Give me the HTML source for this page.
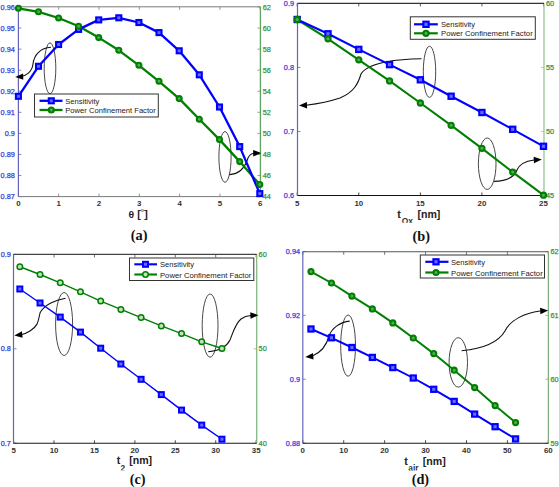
<!DOCTYPE html>
<html><head><meta charset="utf-8"><style>
*{margin:0;padding:0}
html,body{width:559px;height:487px;background:#fff;overflow:hidden}
svg text{font-family:"Liberation Sans",sans-serif}
.xt{font-size:7.9px;font-weight:bold;fill:#333}
.yl{font-size:7.3px;fill:#2a2ad8;stroke:#4a4ae0;stroke-width:0.25}
.yr{font-size:7.3px;fill:#2d8a2d;stroke:#4a9a4a;stroke-width:0.25}
.lg{font-size:7.7px;fill:#222}
.xl{font-size:10.6px;font-weight:bold;fill:#222}
.xs{font-size:8.4px;font-weight:bold;fill:#333}
.cap{font-family:"Liberation Serif",serif !important;font-size:14.3px;font-weight:bold;fill:#111}
</style></head>
<body><svg width="559" height="487" viewBox="0 0 559 487" style="display:block">
<rect width="559" height="487" fill="#fff"/>
<line x1="18.4" y1="196.6" x2="18.4" y2="193.6" stroke="#7a7a7a" stroke-width="0.8"/>
<line x1="18.4" y1="6.8" x2="18.4" y2="9.8" stroke="#7a7a7a" stroke-width="0.8"/>
<text x="18.4" y="206.4" text-anchor="middle" class="xt">0</text>
<line x1="58.7" y1="196.6" x2="58.7" y2="193.6" stroke="#7a7a7a" stroke-width="0.8"/>
<line x1="58.7" y1="6.8" x2="58.7" y2="9.8" stroke="#7a7a7a" stroke-width="0.8"/>
<text x="58.7" y="206.4" text-anchor="middle" class="xt">1</text>
<line x1="99" y1="196.6" x2="99" y2="193.6" stroke="#7a7a7a" stroke-width="0.8"/>
<line x1="99" y1="6.8" x2="99" y2="9.8" stroke="#7a7a7a" stroke-width="0.8"/>
<text x="99" y="206.4" text-anchor="middle" class="xt">2</text>
<line x1="139.3" y1="196.6" x2="139.3" y2="193.6" stroke="#7a7a7a" stroke-width="0.8"/>
<line x1="139.3" y1="6.8" x2="139.3" y2="9.8" stroke="#7a7a7a" stroke-width="0.8"/>
<text x="139.3" y="206.4" text-anchor="middle" class="xt">3</text>
<line x1="179.6" y1="196.6" x2="179.6" y2="193.6" stroke="#7a7a7a" stroke-width="0.8"/>
<line x1="179.6" y1="6.8" x2="179.6" y2="9.8" stroke="#7a7a7a" stroke-width="0.8"/>
<text x="179.6" y="206.4" text-anchor="middle" class="xt">4</text>
<line x1="219.9" y1="196.6" x2="219.9" y2="193.6" stroke="#7a7a7a" stroke-width="0.8"/>
<line x1="219.9" y1="6.8" x2="219.9" y2="9.8" stroke="#7a7a7a" stroke-width="0.8"/>
<text x="219.9" y="206.4" text-anchor="middle" class="xt">5</text>
<line x1="260.2" y1="196.6" x2="260.2" y2="193.6" stroke="#7a7a7a" stroke-width="0.8"/>
<line x1="260.2" y1="6.8" x2="260.2" y2="9.8" stroke="#7a7a7a" stroke-width="0.8"/>
<text x="260.2" y="206.4" text-anchor="middle" class="xt">6</text>
<line x1="18.4" y1="6.8" x2="18.4" y2="196.6" stroke="#6464bc" stroke-width="1.2"/>
<line x1="18.4" y1="196.6" x2="21.4" y2="196.6" stroke="#6464bc" stroke-width="0.8"/>
<text x="14.8" y="199.2" text-anchor="end" class="yl">0.87</text>
<line x1="18.4" y1="175.53" x2="21.4" y2="175.53" stroke="#6464bc" stroke-width="0.8"/>
<text x="14.8" y="178.13" text-anchor="end" class="yl">0.88</text>
<line x1="18.4" y1="154.46" x2="21.4" y2="154.46" stroke="#6464bc" stroke-width="0.8"/>
<text x="14.8" y="157.06" text-anchor="end" class="yl">0.89</text>
<line x1="18.4" y1="133.39" x2="21.4" y2="133.39" stroke="#6464bc" stroke-width="0.8"/>
<text x="14.8" y="135.99" text-anchor="end" class="yl">0.9</text>
<line x1="18.4" y1="112.32" x2="21.4" y2="112.32" stroke="#6464bc" stroke-width="0.8"/>
<text x="14.8" y="114.92" text-anchor="end" class="yl">0.91</text>
<line x1="18.4" y1="91.25" x2="21.4" y2="91.25" stroke="#6464bc" stroke-width="0.8"/>
<text x="14.8" y="93.85" text-anchor="end" class="yl">0.92</text>
<line x1="18.4" y1="70.18" x2="21.4" y2="70.18" stroke="#6464bc" stroke-width="0.8"/>
<text x="14.8" y="72.78" text-anchor="end" class="yl">0.93</text>
<line x1="18.4" y1="49.11" x2="21.4" y2="49.11" stroke="#6464bc" stroke-width="0.8"/>
<text x="14.8" y="51.71" text-anchor="end" class="yl">0.94</text>
<line x1="18.4" y1="28.04" x2="21.4" y2="28.04" stroke="#6464bc" stroke-width="0.8"/>
<text x="14.8" y="30.64" text-anchor="end" class="yl">0.95</text>
<line x1="18.4" y1="6.97" x2="21.4" y2="6.97" stroke="#6464bc" stroke-width="0.8"/>
<text x="14.8" y="9.57" text-anchor="end" class="yl">0.96</text>
<line x1="260.4" y1="6.8" x2="260.4" y2="196.6" stroke="#5fa55f" stroke-width="1.3"/>
<line x1="260.4" y1="196.6" x2="257.4" y2="196.6" stroke="#5fa55f" stroke-width="0.8"/>
<text x="262.8" y="199.2" text-anchor="start" class="yr">44</text>
<line x1="260.4" y1="175.53" x2="257.4" y2="175.53" stroke="#5fa55f" stroke-width="0.8"/>
<text x="262.8" y="178.13" text-anchor="start" class="yr">46</text>
<line x1="260.4" y1="154.46" x2="257.4" y2="154.46" stroke="#5fa55f" stroke-width="0.8"/>
<text x="262.8" y="157.06" text-anchor="start" class="yr">48</text>
<line x1="260.4" y1="133.39" x2="257.4" y2="133.39" stroke="#5fa55f" stroke-width="0.8"/>
<text x="262.8" y="135.99" text-anchor="start" class="yr">50</text>
<line x1="260.4" y1="112.32" x2="257.4" y2="112.32" stroke="#5fa55f" stroke-width="0.8"/>
<text x="262.8" y="114.92" text-anchor="start" class="yr">52</text>
<line x1="260.4" y1="91.25" x2="257.4" y2="91.25" stroke="#5fa55f" stroke-width="0.8"/>
<text x="262.8" y="93.85" text-anchor="start" class="yr">54</text>
<line x1="260.4" y1="70.18" x2="257.4" y2="70.18" stroke="#5fa55f" stroke-width="0.8"/>
<text x="262.8" y="72.78" text-anchor="start" class="yr">56</text>
<line x1="260.4" y1="49.11" x2="257.4" y2="49.11" stroke="#5fa55f" stroke-width="0.8"/>
<text x="262.8" y="51.71" text-anchor="start" class="yr">58</text>
<line x1="260.4" y1="28.04" x2="257.4" y2="28.04" stroke="#5fa55f" stroke-width="0.8"/>
<text x="262.8" y="30.64" text-anchor="start" class="yr">60</text>
<line x1="260.4" y1="6.97" x2="257.4" y2="6.97" stroke="#5fa55f" stroke-width="0.8"/>
<text x="262.8" y="9.57" text-anchor="start" class="yr">62</text>
<line x1="18.4" y1="6.8" x2="260.4" y2="6.8" stroke="#7a7a7a" stroke-width="1"/>
<line x1="18.4" y1="196.6" x2="260.4" y2="196.6" stroke="#7a7a7a" stroke-width="1"/>
<ellipse cx="50" cy="68.3" rx="5.8" ry="25.4" fill="none" stroke="#333" stroke-width="0.9"/>
<ellipse cx="225" cy="156.9" rx="6.1" ry="25.35" fill="none" stroke="#333" stroke-width="0.9"/>
<path d="M51,47.3 C40,48 34,55 33,64 C32,72 26,76 20,76.8" fill="none" stroke="#111" stroke-width="1.1"/>
<polygon points="15.2,76.9 23.08,73.38 23.31,79.87" fill="#000"/>
<path d="M229.4,174.6 C240,174 245,168 248,158 C250,154 252,153.5 254,153.3" fill="none" stroke="#111" stroke-width="1.1"/>
<polygon points="261.2,153 253.29,156.47 253.11,149.97" fill="#000"/>
<polyline points="18.4,8.3 38.5,11.8 58.6,18 78.6,26.2 98.7,37.6 118.8,50.3 138.9,65.3 159,81.3 179.2,98.6 199.3,119.3 219.5,139.6 239.7,161.6 259.8,184.5" fill="none" stroke="#008000" stroke-width="2.3" stroke-linejoin="round"/>
<polyline points="18.4,96.3 38.5,66.3 58.6,44.5 78.6,29.4 98.7,19.9 118.8,17.8 138.9,22.5 159,32.6 179.2,50.8 199.3,74.8 219.5,107 239.7,146.6 259.8,193.6" fill="none" stroke="#0000ff" stroke-width="2.3" stroke-linejoin="round"/>
<rect x="15.9" y="93.8" width="5" height="5" fill="#6a6aff" stroke="#0000ff" stroke-width="2.1"/>
<rect x="36" y="63.8" width="5" height="5" fill="#6a6aff" stroke="#0000ff" stroke-width="2.1"/>
<rect x="56.1" y="42" width="5" height="5" fill="#6a6aff" stroke="#0000ff" stroke-width="2.1"/>
<rect x="76.1" y="26.9" width="5" height="5" fill="#6a6aff" stroke="#0000ff" stroke-width="2.1"/>
<rect x="96.2" y="17.4" width="5" height="5" fill="#6a6aff" stroke="#0000ff" stroke-width="2.1"/>
<rect x="116.3" y="15.3" width="5" height="5" fill="#6a6aff" stroke="#0000ff" stroke-width="2.1"/>
<rect x="136.4" y="20" width="5" height="5" fill="#6a6aff" stroke="#0000ff" stroke-width="2.1"/>
<rect x="156.5" y="30.1" width="5" height="5" fill="#6a6aff" stroke="#0000ff" stroke-width="2.1"/>
<rect x="176.7" y="48.3" width="5" height="5" fill="#6a6aff" stroke="#0000ff" stroke-width="2.1"/>
<rect x="196.8" y="72.3" width="5" height="5" fill="#6a6aff" stroke="#0000ff" stroke-width="2.1"/>
<rect x="217" y="104.5" width="5" height="5" fill="#6a6aff" stroke="#0000ff" stroke-width="2.1"/>
<rect x="237.2" y="144.1" width="5" height="5" fill="#6a6aff" stroke="#0000ff" stroke-width="2.1"/>
<rect x="257.3" y="191.1" width="5" height="5" fill="#6a6aff" stroke="#0000ff" stroke-width="2.1"/>
<circle cx="18.4" cy="8.3" r="2.5" fill="#5aa85a" stroke="#008000" stroke-width="2.1"/>
<circle cx="38.5" cy="11.8" r="2.5" fill="#5aa85a" stroke="#008000" stroke-width="2.1"/>
<circle cx="58.6" cy="18" r="2.5" fill="#5aa85a" stroke="#008000" stroke-width="2.1"/>
<circle cx="78.6" cy="26.2" r="2.5" fill="#5aa85a" stroke="#008000" stroke-width="2.1"/>
<circle cx="98.7" cy="37.6" r="2.5" fill="#5aa85a" stroke="#008000" stroke-width="2.1"/>
<circle cx="118.8" cy="50.3" r="2.5" fill="#5aa85a" stroke="#008000" stroke-width="2.1"/>
<circle cx="138.9" cy="65.3" r="2.5" fill="#5aa85a" stroke="#008000" stroke-width="2.1"/>
<circle cx="159" cy="81.3" r="2.5" fill="#5aa85a" stroke="#008000" stroke-width="2.1"/>
<circle cx="179.2" cy="98.6" r="2.5" fill="#5aa85a" stroke="#008000" stroke-width="2.1"/>
<circle cx="199.3" cy="119.3" r="2.5" fill="#5aa85a" stroke="#008000" stroke-width="2.1"/>
<circle cx="219.5" cy="139.6" r="2.5" fill="#5aa85a" stroke="#008000" stroke-width="2.1"/>
<circle cx="239.7" cy="161.6" r="2.5" fill="#5aa85a" stroke="#008000" stroke-width="2.1"/>
<circle cx="259.8" cy="184.5" r="2.5" fill="#5aa85a" stroke="#008000" stroke-width="2.1"/>
<rect x="34.5" y="94" width="123.8" height="23" fill="#fff" stroke="#333" stroke-width="1"/>
<line x1="39.5" y1="100.8" x2="62.5" y2="100.8" stroke="#0000ff" stroke-width="2.3"/>
<rect x="48.8" y="98.3" width="5" height="5" fill="#6a6aff" stroke="#0000ff" stroke-width="2.1"/>
<text x="65.3" y="103.8" class="lg" textLength="34" lengthAdjust="spacingAndGlyphs">Sensitivity</text>
<line x1="39.5" y1="110" x2="62.5" y2="110" stroke="#008000" stroke-width="2.3"/>
<circle cx="51.3" cy="110" r="2.5" fill="#5aa85a" stroke="#008000" stroke-width="2.1"/>
<text x="65.3" y="113" class="lg" textLength="90.5" lengthAdjust="spacingAndGlyphs">Power Confinement Factor</text>
<text x="128.5" y="217.6" class="xl" style="font-size:8.6px" textLength="5.6" lengthAdjust="spacingAndGlyphs">&#952;</text><text x="137.3" y="217.9" class="xl">[</text><text x="140.5" y="215.4" class="xl" style="font-size:9.5px;fill:#666">&#176;</text><text x="144.3" y="217.9" class="xl">]</text>
<text x="139.2" y="240" text-anchor="middle" class="cap">(a)</text>
<line x1="297.2" y1="195.5" x2="297.2" y2="192.5" stroke="#111" stroke-width="0.8"/>
<line x1="297.2" y1="3.4" x2="297.2" y2="6.4" stroke="#333" stroke-width="0.8"/>
<text x="297.2" y="205.9" text-anchor="middle" class="xt">5</text>
<line x1="358.77" y1="195.5" x2="358.77" y2="192.5" stroke="#111" stroke-width="0.8"/>
<line x1="358.77" y1="3.4" x2="358.77" y2="6.4" stroke="#333" stroke-width="0.8"/>
<text x="358.77" y="205.9" text-anchor="middle" class="xt">10</text>
<line x1="420.35" y1="195.5" x2="420.35" y2="192.5" stroke="#111" stroke-width="0.8"/>
<line x1="420.35" y1="3.4" x2="420.35" y2="6.4" stroke="#333" stroke-width="0.8"/>
<text x="420.35" y="205.9" text-anchor="middle" class="xt">15</text>
<line x1="481.92" y1="195.5" x2="481.92" y2="192.5" stroke="#111" stroke-width="0.8"/>
<line x1="481.92" y1="3.4" x2="481.92" y2="6.4" stroke="#333" stroke-width="0.8"/>
<text x="481.92" y="205.9" text-anchor="middle" class="xt">20</text>
<line x1="543.5" y1="195.5" x2="543.5" y2="192.5" stroke="#111" stroke-width="0.8"/>
<line x1="543.5" y1="3.4" x2="543.5" y2="6.4" stroke="#333" stroke-width="0.8"/>
<text x="543.5" y="205.9" text-anchor="middle" class="xt">25</text>
<line x1="297.5" y1="3.4" x2="297.5" y2="195.5" stroke="#6464bc" stroke-width="1.2"/>
<line x1="297.5" y1="195.6" x2="300.5" y2="195.6" stroke="#6464bc" stroke-width="0.8"/>
<text x="294" y="198.2" text-anchor="end" class="yl">0.6</text>
<line x1="297.5" y1="131.53" x2="300.5" y2="131.53" stroke="#6464bc" stroke-width="0.8"/>
<text x="294" y="134.13" text-anchor="end" class="yl">0.7</text>
<line x1="297.5" y1="67.46" x2="300.5" y2="67.46" stroke="#6464bc" stroke-width="0.8"/>
<text x="294" y="70.06" text-anchor="end" class="yl">0.8</text>
<line x1="297.5" y1="3.39" x2="300.5" y2="3.39" stroke="#6464bc" stroke-width="0.8"/>
<text x="294" y="5.99" text-anchor="end" class="yl">0.9</text>
<line x1="544" y1="3.4" x2="544" y2="195.5" stroke="#98c498" stroke-width="1.3"/>
<line x1="544" y1="195.6" x2="541" y2="195.6" stroke="#98c498" stroke-width="0.8"/>
<text x="546" y="198.2" text-anchor="start" class="yr">45</text>
<line x1="544" y1="131.53" x2="541" y2="131.53" stroke="#98c498" stroke-width="0.8"/>
<text x="546" y="134.13" text-anchor="start" class="yr">50</text>
<line x1="544" y1="67.46" x2="541" y2="67.46" stroke="#98c498" stroke-width="0.8"/>
<text x="546" y="70.06" text-anchor="start" class="yr">55</text>
<line x1="544" y1="3.39" x2="541" y2="3.39" stroke="#98c498" stroke-width="0.8"/>
<text x="546" y="5.99" text-anchor="start" class="yr">60</text>
<line x1="297.5" y1="3.4" x2="544" y2="3.4" stroke="#333" stroke-width="1.15"/>
<line x1="297.5" y1="195.5" x2="544" y2="195.5" stroke="#111" stroke-width="1.15"/>
<ellipse cx="429.5" cy="71.8" rx="6.2" ry="25.6" fill="none" stroke="#333" stroke-width="0.9"/>
<ellipse cx="487.2" cy="163.7" rx="8.8" ry="25.7" fill="none" stroke="#333" stroke-width="0.9"/>
<path d="M421.5,58.8 C400,59 368,62 361,74 C358,84 354,92 340,98 C328,102 316,104 306,105.3" fill="none" stroke="#111" stroke-width="1.1"/>
<polygon points="299,105.5 306.9,102.02 307.09,108.52" fill="#000"/>
<path d="M494.1,181.4 C505,181 514,178 517,170 C520,163 526,161 534,160" fill="none" stroke="#111" stroke-width="1.1"/>
<polygon points="541.8,159.6 533.98,163.26 533.64,156.76" fill="#000"/>
<polyline points="297.2,19.5 327.99,38.8 358.77,59.8 389.56,80.9 420.35,103 451.14,125.3 481.92,148.3 512.71,172.1 543.5,195.2" fill="none" stroke="#008000" stroke-width="2.1" stroke-linejoin="round"/>
<polyline points="297.2,19.5 327.99,33.8 358.77,49.4 389.56,64.6 420.35,79.8 451.14,96.25 481.92,112.5 512.71,129.3 543.5,146.3" fill="none" stroke="#0000ff" stroke-width="2.1" stroke-linejoin="round"/>
<rect x="294.55" y="16.85" width="5.3" height="5.3" fill="#6a6aff" stroke="#0000ff" stroke-width="2.1"/>
<rect x="325.34" y="31.15" width="5.3" height="5.3" fill="#6a6aff" stroke="#0000ff" stroke-width="2.1"/>
<rect x="356.12" y="46.75" width="5.3" height="5.3" fill="#6a6aff" stroke="#0000ff" stroke-width="2.1"/>
<rect x="386.91" y="61.95" width="5.3" height="5.3" fill="#6a6aff" stroke="#0000ff" stroke-width="2.1"/>
<rect x="417.7" y="77.15" width="5.3" height="5.3" fill="#6a6aff" stroke="#0000ff" stroke-width="2.1"/>
<rect x="448.49" y="93.6" width="5.3" height="5.3" fill="#6a6aff" stroke="#0000ff" stroke-width="2.1"/>
<rect x="479.27" y="109.85" width="5.3" height="5.3" fill="#6a6aff" stroke="#0000ff" stroke-width="2.1"/>
<rect x="510.06" y="126.65" width="5.3" height="5.3" fill="#6a6aff" stroke="#0000ff" stroke-width="2.1"/>
<rect x="540.85" y="143.65" width="5.3" height="5.3" fill="#6a6aff" stroke="#0000ff" stroke-width="2.1"/>
<circle cx="297.2" cy="19.5" r="2.6" fill="#5aa85a" stroke="#008000" stroke-width="2.1"/>
<circle cx="327.99" cy="38.8" r="2.6" fill="#5aa85a" stroke="#008000" stroke-width="2.1"/>
<circle cx="358.77" cy="59.8" r="2.6" fill="#5aa85a" stroke="#008000" stroke-width="2.1"/>
<circle cx="389.56" cy="80.9" r="2.6" fill="#5aa85a" stroke="#008000" stroke-width="2.1"/>
<circle cx="420.35" cy="103" r="2.6" fill="#5aa85a" stroke="#008000" stroke-width="2.1"/>
<circle cx="451.14" cy="125.3" r="2.6" fill="#5aa85a" stroke="#008000" stroke-width="2.1"/>
<circle cx="481.92" cy="148.3" r="2.6" fill="#5aa85a" stroke="#008000" stroke-width="2.1"/>
<circle cx="512.71" cy="172.1" r="2.6" fill="#5aa85a" stroke="#008000" stroke-width="2.1"/>
<circle cx="543.5" cy="195.2" r="2.6" fill="#5aa85a" stroke="#008000" stroke-width="2.1"/>
<rect x="410.3" y="16.8" width="125" height="22.5" fill="#fff" stroke="#333" stroke-width="1"/>
<line x1="414" y1="24.3" x2="437.8" y2="24.3" stroke="#0000ff" stroke-width="2.2"/>
<rect x="423.35" y="21.65" width="5.3" height="5.3" fill="#6a6aff" stroke="#0000ff" stroke-width="2.1"/>
<text x="441" y="27.3" class="lg" textLength="34" lengthAdjust="spacingAndGlyphs">Sensitivity</text>
<line x1="414" y1="33.3" x2="437.8" y2="33.3" stroke="#008000" stroke-width="2.2"/>
<circle cx="426" cy="33.3" r="2.6" fill="#5aa85a" stroke="#008000" stroke-width="2.1"/>
<text x="441" y="36.3" class="lg" textLength="91.7" lengthAdjust="spacingAndGlyphs">Power Confinement Factor</text>
<text x="397.3" y="217.8" class="xl">t</text><svg x="401" y="214" width="16" height="8.7" overflow="hidden"><text x="0.8" y="10.1" class="xs">Ox</text></svg><text x="417.4" y="217.8" class="xl">[nm]</text>
<text x="421.3" y="240.8" text-anchor="middle" class="cap">(b)</text>
<line x1="13.6" y1="443.3" x2="13.6" y2="440.3" stroke="#1a1a1a" stroke-width="0.8"/>
<line x1="13.6" y1="254.4" x2="13.6" y2="257.4" stroke="#444" stroke-width="0.8"/>
<text x="13.6" y="452.7" text-anchor="middle" class="xt">5</text>
<line x1="54.03" y1="443.3" x2="54.03" y2="440.3" stroke="#1a1a1a" stroke-width="0.8"/>
<line x1="54.03" y1="254.4" x2="54.03" y2="257.4" stroke="#444" stroke-width="0.8"/>
<text x="54.03" y="452.7" text-anchor="middle" class="xt">10</text>
<line x1="94.45" y1="443.3" x2="94.45" y2="440.3" stroke="#1a1a1a" stroke-width="0.8"/>
<line x1="94.45" y1="254.4" x2="94.45" y2="257.4" stroke="#444" stroke-width="0.8"/>
<text x="94.45" y="452.7" text-anchor="middle" class="xt">15</text>
<line x1="134.88" y1="443.3" x2="134.88" y2="440.3" stroke="#1a1a1a" stroke-width="0.8"/>
<line x1="134.88" y1="254.4" x2="134.88" y2="257.4" stroke="#444" stroke-width="0.8"/>
<text x="134.88" y="452.7" text-anchor="middle" class="xt">20</text>
<line x1="175.3" y1="443.3" x2="175.3" y2="440.3" stroke="#1a1a1a" stroke-width="0.8"/>
<line x1="175.3" y1="254.4" x2="175.3" y2="257.4" stroke="#444" stroke-width="0.8"/>
<text x="175.3" y="452.7" text-anchor="middle" class="xt">25</text>
<line x1="215.73" y1="443.3" x2="215.73" y2="440.3" stroke="#1a1a1a" stroke-width="0.8"/>
<line x1="215.73" y1="254.4" x2="215.73" y2="257.4" stroke="#444" stroke-width="0.8"/>
<text x="215.73" y="452.7" text-anchor="middle" class="xt">30</text>
<line x1="256.15" y1="443.3" x2="256.15" y2="440.3" stroke="#1a1a1a" stroke-width="0.8"/>
<line x1="256.15" y1="254.4" x2="256.15" y2="257.4" stroke="#444" stroke-width="0.8"/>
<text x="256.15" y="452.7" text-anchor="middle" class="xt">35</text>
<line x1="13.5" y1="254.4" x2="13.5" y2="443.3" stroke="#6464b0" stroke-width="1.2"/>
<line x1="13.5" y1="443.1" x2="16.5" y2="443.1" stroke="#6464b0" stroke-width="0.8"/>
<text x="10.8" y="445.7" text-anchor="end" class="yl">0.7</text>
<line x1="13.5" y1="348.75" x2="16.5" y2="348.75" stroke="#6464b0" stroke-width="0.8"/>
<text x="10.8" y="351.35" text-anchor="end" class="yl">0.8</text>
<line x1="13.5" y1="254.4" x2="16.5" y2="254.4" stroke="#6464b0" stroke-width="0.8"/>
<text x="10.8" y="257" text-anchor="end" class="yl">0.9</text>
<line x1="256.7" y1="254.4" x2="256.7" y2="443.3" stroke="#84b884" stroke-width="1.3"/>
<line x1="256.7" y1="443.1" x2="253.7" y2="443.1" stroke="#84b884" stroke-width="0.8"/>
<text x="258.6" y="445.7" text-anchor="start" class="yr">40</text>
<line x1="256.7" y1="348.75" x2="253.7" y2="348.75" stroke="#84b884" stroke-width="0.8"/>
<text x="258.6" y="351.35" text-anchor="start" class="yr">50</text>
<line x1="256.7" y1="254.4" x2="253.7" y2="254.4" stroke="#84b884" stroke-width="0.8"/>
<text x="258.6" y="257" text-anchor="start" class="yr">60</text>
<line x1="13.5" y1="254.4" x2="256.7" y2="254.4" stroke="#444" stroke-width="1.1"/>
<line x1="13.5" y1="443.3" x2="256.7" y2="443.3" stroke="#1a1a1a" stroke-width="1.1"/>
<ellipse cx="64.1" cy="324" rx="8.5" ry="31.5" fill="none" stroke="#333" stroke-width="0.9"/>
<ellipse cx="210.1" cy="325.6" rx="7.9" ry="31.6" fill="none" stroke="#333" stroke-width="0.9"/>
<path d="M65.6,298.3 C55,300 44,305 40,313 C38,322 38,326 30,331 C26,333.5 22,334.5 21,334.7" fill="none" stroke="#111" stroke-width="1.1"/>
<polygon points="14.3,335.4 21.92,331.34 22.59,337.8" fill="#000"/>
<path d="M208.2,351.8 C218,351 226,348 230,340 C233,333 235,324 241,319 C245,316 248,315.7 251,315.5" fill="none" stroke="#111" stroke-width="1.1"/>
<polygon points="258.4,315.2 250.54,318.77 250.27,312.28" fill="#000"/>
<polyline points="19.83,266.75 40.04,274.5 60.25,282.8 80.46,291.8 100.68,301.1 120.89,309.4 141.1,317.6 161.31,325.9 181.53,333.6 201.74,341.8 221.95,348.5" fill="none" stroke="#008000" stroke-width="1.4" stroke-linejoin="round"/>
<polyline points="19.83,289 40.04,303 60.25,317.1 80.46,332.1 100.68,348.2 120.89,364 141.1,379.3 161.31,394.6 181.53,410.1 201.74,425.1 221.95,439.2" fill="none" stroke="#0000ff" stroke-width="1.4" stroke-linejoin="round"/>
<rect x="17.33" y="286.5" width="5" height="5" fill="#6a6aff" stroke="#0000ff" stroke-width="2"/>
<rect x="37.54" y="300.5" width="5" height="5" fill="#6a6aff" stroke="#0000ff" stroke-width="2"/>
<rect x="57.75" y="314.6" width="5" height="5" fill="#6a6aff" stroke="#0000ff" stroke-width="2"/>
<rect x="77.96" y="329.6" width="5" height="5" fill="#6a6aff" stroke="#0000ff" stroke-width="2"/>
<rect x="98.18" y="345.7" width="5" height="5" fill="#6a6aff" stroke="#0000ff" stroke-width="2"/>
<rect x="118.39" y="361.5" width="5" height="5" fill="#6a6aff" stroke="#0000ff" stroke-width="2"/>
<rect x="138.6" y="376.8" width="5" height="5" fill="#6a6aff" stroke="#0000ff" stroke-width="2"/>
<rect x="158.81" y="392.1" width="5" height="5" fill="#6a6aff" stroke="#0000ff" stroke-width="2"/>
<rect x="179.03" y="407.6" width="5" height="5" fill="#6a6aff" stroke="#0000ff" stroke-width="2"/>
<rect x="199.24" y="422.6" width="5" height="5" fill="#6a6aff" stroke="#0000ff" stroke-width="2"/>
<rect x="219.45" y="436.7" width="5" height="5" fill="#6a6aff" stroke="#0000ff" stroke-width="2"/>
<circle cx="19.83" cy="266.75" r="2.75" fill="#c0e2c0" stroke="#008000" stroke-width="1.5"/>
<circle cx="40.04" cy="274.5" r="2.75" fill="#c0e2c0" stroke="#008000" stroke-width="1.5"/>
<circle cx="60.25" cy="282.8" r="2.75" fill="#c0e2c0" stroke="#008000" stroke-width="1.5"/>
<circle cx="80.46" cy="291.8" r="2.75" fill="#c0e2c0" stroke="#008000" stroke-width="1.5"/>
<circle cx="100.68" cy="301.1" r="2.75" fill="#c0e2c0" stroke="#008000" stroke-width="1.5"/>
<circle cx="120.89" cy="309.4" r="2.75" fill="#c0e2c0" stroke="#008000" stroke-width="1.5"/>
<circle cx="141.1" cy="317.6" r="2.75" fill="#c0e2c0" stroke="#008000" stroke-width="1.5"/>
<circle cx="161.31" cy="325.9" r="2.75" fill="#c0e2c0" stroke="#008000" stroke-width="1.5"/>
<circle cx="181.53" cy="333.6" r="2.75" fill="#c0e2c0" stroke="#008000" stroke-width="1.5"/>
<circle cx="201.74" cy="341.8" r="2.75" fill="#c0e2c0" stroke="#008000" stroke-width="1.5"/>
<circle cx="221.95" cy="348.5" r="2.75" fill="#c0e2c0" stroke="#008000" stroke-width="1.5"/>
<rect x="129.5" y="258" width="124.3" height="22.5" fill="#fff" stroke="#333" stroke-width="1"/>
<line x1="134.3" y1="264.3" x2="157" y2="264.3" stroke="#0000ff" stroke-width="2.1"/>
<rect x="143" y="261.8" width="5" height="5" fill="#6a6aff" stroke="#0000ff" stroke-width="2"/>
<text x="160" y="267.3" class="lg" textLength="34" lengthAdjust="spacingAndGlyphs">Sensitivity</text>
<line x1="134.3" y1="274.5" x2="157" y2="274.5" stroke="#008000" stroke-width="2.1"/>
<circle cx="145.5" cy="274.5" r="2.75" fill="#c0e2c0" stroke="#008000" stroke-width="1.5"/>
<text x="160" y="277.5" class="lg" textLength="91.3" lengthAdjust="spacingAndGlyphs">Power Confinement Factor</text>
<text x="116.8" y="464.4" class="xl">t</text><svg x="120" y="460" width="8" height="10.3" overflow="hidden"><text x="0.6" y="11" class="xs">2</text></svg><text x="129.2" y="464.4" class="xl">[nm]</text>
<text x="137.6" y="484" text-anchor="middle" class="cap">(c)</text>
<line x1="302.8" y1="443.2" x2="302.8" y2="440.2" stroke="#1a1a1a" stroke-width="0.8"/>
<line x1="302.8" y1="251.8" x2="302.8" y2="254.8" stroke="#555" stroke-width="0.8"/>
<text x="302.8" y="452.7" text-anchor="middle" class="xt">0</text>
<line x1="343.72" y1="443.2" x2="343.72" y2="440.2" stroke="#1a1a1a" stroke-width="0.8"/>
<line x1="343.72" y1="251.8" x2="343.72" y2="254.8" stroke="#555" stroke-width="0.8"/>
<text x="343.72" y="452.7" text-anchor="middle" class="xt">10</text>
<line x1="384.63" y1="443.2" x2="384.63" y2="440.2" stroke="#1a1a1a" stroke-width="0.8"/>
<line x1="384.63" y1="251.8" x2="384.63" y2="254.8" stroke="#555" stroke-width="0.8"/>
<text x="384.63" y="452.7" text-anchor="middle" class="xt">20</text>
<line x1="425.55" y1="443.2" x2="425.55" y2="440.2" stroke="#1a1a1a" stroke-width="0.8"/>
<line x1="425.55" y1="251.8" x2="425.55" y2="254.8" stroke="#555" stroke-width="0.8"/>
<text x="425.55" y="452.7" text-anchor="middle" class="xt">30</text>
<line x1="466.47" y1="443.2" x2="466.47" y2="440.2" stroke="#1a1a1a" stroke-width="0.8"/>
<line x1="466.47" y1="251.8" x2="466.47" y2="254.8" stroke="#555" stroke-width="0.8"/>
<text x="466.47" y="452.7" text-anchor="middle" class="xt">40</text>
<line x1="507.38" y1="443.2" x2="507.38" y2="440.2" stroke="#1a1a1a" stroke-width="0.8"/>
<line x1="507.38" y1="251.8" x2="507.38" y2="254.8" stroke="#555" stroke-width="0.8"/>
<text x="507.38" y="452.7" text-anchor="middle" class="xt">50</text>
<line x1="548.3" y1="443.2" x2="548.3" y2="440.2" stroke="#1a1a1a" stroke-width="0.8"/>
<line x1="548.3" y1="251.8" x2="548.3" y2="254.8" stroke="#555" stroke-width="0.8"/>
<text x="548.3" y="452.7" text-anchor="middle" class="xt">60</text>
<line x1="302.8" y1="251.8" x2="302.8" y2="443.2" stroke="#6464bc" stroke-width="1.2"/>
<line x1="302.8" y1="443.1" x2="305.8" y2="443.1" stroke="#6464bc" stroke-width="0.8"/>
<text x="300" y="445.7" text-anchor="end" class="yl">0.88</text>
<line x1="302.8" y1="379.23" x2="305.8" y2="379.23" stroke="#6464bc" stroke-width="0.8"/>
<text x="300" y="381.83" text-anchor="end" class="yl">0.9</text>
<line x1="302.8" y1="315.36" x2="305.8" y2="315.36" stroke="#6464bc" stroke-width="0.8"/>
<text x="300" y="317.96" text-anchor="end" class="yl">0.92</text>
<line x1="302.8" y1="251.49" x2="305.8" y2="251.49" stroke="#6464bc" stroke-width="0.8"/>
<text x="300" y="254.09" text-anchor="end" class="yl">0.94</text>
<line x1="548.4" y1="251.8" x2="548.4" y2="443.2" stroke="#7fb07f" stroke-width="1.3"/>
<line x1="548.4" y1="443.1" x2="545.4" y2="443.1" stroke="#7fb07f" stroke-width="0.8"/>
<text x="550.5" y="445.7" text-anchor="start" class="yr">59</text>
<line x1="548.4" y1="379.23" x2="545.4" y2="379.23" stroke="#7fb07f" stroke-width="0.8"/>
<text x="550.5" y="381.83" text-anchor="start" class="yr">60</text>
<line x1="548.4" y1="315.36" x2="545.4" y2="315.36" stroke="#7fb07f" stroke-width="0.8"/>
<text x="550.5" y="317.96" text-anchor="start" class="yr">61</text>
<line x1="548.4" y1="251.49" x2="545.4" y2="251.49" stroke="#7fb07f" stroke-width="0.8"/>
<text x="550.5" y="254.09" text-anchor="start" class="yr">62</text>
<line x1="302.8" y1="251.8" x2="548.4" y2="251.8" stroke="#555" stroke-width="1.1"/>
<line x1="302.8" y1="443.2" x2="548.4" y2="443.2" stroke="#1a1a1a" stroke-width="1.1"/>
<ellipse cx="348.1" cy="345.6" rx="7.4" ry="30.6" fill="none" stroke="#333" stroke-width="0.9"/>
<ellipse cx="458.3" cy="362.4" rx="9.2" ry="24.7" fill="none" stroke="#333" stroke-width="0.9"/>
<path d="M349.7,321.1 C340,322 332,328 329,336 C327,344 322,352 312,356.3" fill="none" stroke="#111" stroke-width="1.1"/>
<polygon points="305.3,357 312.98,353.05 313.56,359.52" fill="#000"/>
<path d="M461.6,350.8 C480,349 498,343 505,331 C510,320 525,313 540,311" fill="none" stroke="#111" stroke-width="1.1"/>
<polygon points="548.2,310.6 540.37,314.24 540.05,307.74" fill="#000"/>
<polyline points="310.98,271.6 331.44,283 351.9,296.1 372.36,308.9 392.82,322.9 413.28,338 433.73,353.6 454.19,370.2 474.65,387.6 495.11,405.6 515.57,422.6" fill="none" stroke="#008000" stroke-width="1.95" stroke-linejoin="round"/>
<polyline points="310.98,329 331.44,337.8 351.9,347.5 372.36,357.4 392.82,367.6 413.28,378 433.73,389.3 454.19,401.4 474.65,414.1 495.11,426.7 515.57,438.9" fill="none" stroke="#0000ff" stroke-width="1.95" stroke-linejoin="round"/>
<rect x="308.38" y="326.4" width="5.2" height="5.2" fill="#6a6aff" stroke="#0000ff" stroke-width="2.1"/>
<rect x="328.84" y="335.2" width="5.2" height="5.2" fill="#6a6aff" stroke="#0000ff" stroke-width="2.1"/>
<rect x="349.3" y="344.9" width="5.2" height="5.2" fill="#6a6aff" stroke="#0000ff" stroke-width="2.1"/>
<rect x="369.76" y="354.8" width="5.2" height="5.2" fill="#6a6aff" stroke="#0000ff" stroke-width="2.1"/>
<rect x="390.22" y="365" width="5.2" height="5.2" fill="#6a6aff" stroke="#0000ff" stroke-width="2.1"/>
<rect x="410.68" y="375.4" width="5.2" height="5.2" fill="#6a6aff" stroke="#0000ff" stroke-width="2.1"/>
<rect x="431.13" y="386.7" width="5.2" height="5.2" fill="#6a6aff" stroke="#0000ff" stroke-width="2.1"/>
<rect x="451.59" y="398.8" width="5.2" height="5.2" fill="#6a6aff" stroke="#0000ff" stroke-width="2.1"/>
<rect x="472.05" y="411.5" width="5.2" height="5.2" fill="#6a6aff" stroke="#0000ff" stroke-width="2.1"/>
<rect x="492.51" y="424.1" width="5.2" height="5.2" fill="#6a6aff" stroke="#0000ff" stroke-width="2.1"/>
<rect x="512.97" y="436.3" width="5.2" height="5.2" fill="#6a6aff" stroke="#0000ff" stroke-width="2.1"/>
<circle cx="310.98" cy="271.6" r="2.55" fill="#5aa85a" stroke="#008000" stroke-width="2.1"/>
<circle cx="331.44" cy="283" r="2.55" fill="#5aa85a" stroke="#008000" stroke-width="2.1"/>
<circle cx="351.9" cy="296.1" r="2.55" fill="#5aa85a" stroke="#008000" stroke-width="2.1"/>
<circle cx="372.36" cy="308.9" r="2.55" fill="#5aa85a" stroke="#008000" stroke-width="2.1"/>
<circle cx="392.82" cy="322.9" r="2.55" fill="#5aa85a" stroke="#008000" stroke-width="2.1"/>
<circle cx="413.28" cy="338" r="2.55" fill="#5aa85a" stroke="#008000" stroke-width="2.1"/>
<circle cx="433.73" cy="353.6" r="2.55" fill="#5aa85a" stroke="#008000" stroke-width="2.1"/>
<circle cx="454.19" cy="370.2" r="2.55" fill="#5aa85a" stroke="#008000" stroke-width="2.1"/>
<circle cx="474.65" cy="387.6" r="2.55" fill="#5aa85a" stroke="#008000" stroke-width="2.1"/>
<circle cx="495.11" cy="405.6" r="2.55" fill="#5aa85a" stroke="#008000" stroke-width="2.1"/>
<circle cx="515.57" cy="422.6" r="2.55" fill="#5aa85a" stroke="#008000" stroke-width="2.1"/>
<rect x="420.3" y="255" width="124.2" height="23" fill="#fff" stroke="#333" stroke-width="1"/>
<line x1="425.3" y1="261.8" x2="448.5" y2="261.8" stroke="#0000ff" stroke-width="2.2"/>
<rect x="433.4" y="259.2" width="5.2" height="5.2" fill="#6a6aff" stroke="#0000ff" stroke-width="2.1"/>
<text x="451" y="264.8" class="lg" textLength="34" lengthAdjust="spacingAndGlyphs">Sensitivity</text>
<line x1="425.3" y1="272.5" x2="448.5" y2="272.5" stroke="#008000" stroke-width="2.2"/>
<circle cx="436" cy="272.5" r="2.55" fill="#5aa85a" stroke="#008000" stroke-width="2.1"/>
<text x="451" y="275.5" class="lg" textLength="91.7" lengthAdjust="spacingAndGlyphs">Power Confinement Factor</text>
<text x="404.2" y="464.8" class="xl">t</text><svg x="407.5" y="460" width="12" height="10.5" overflow="hidden"><text x="0.8" y="10.8" class="xs">air</text></svg><text x="422.8" y="464.8" class="xl">[nm]</text>
<text x="420.4" y="484" text-anchor="middle" class="cap">(d)</text>
</svg></body></html>
